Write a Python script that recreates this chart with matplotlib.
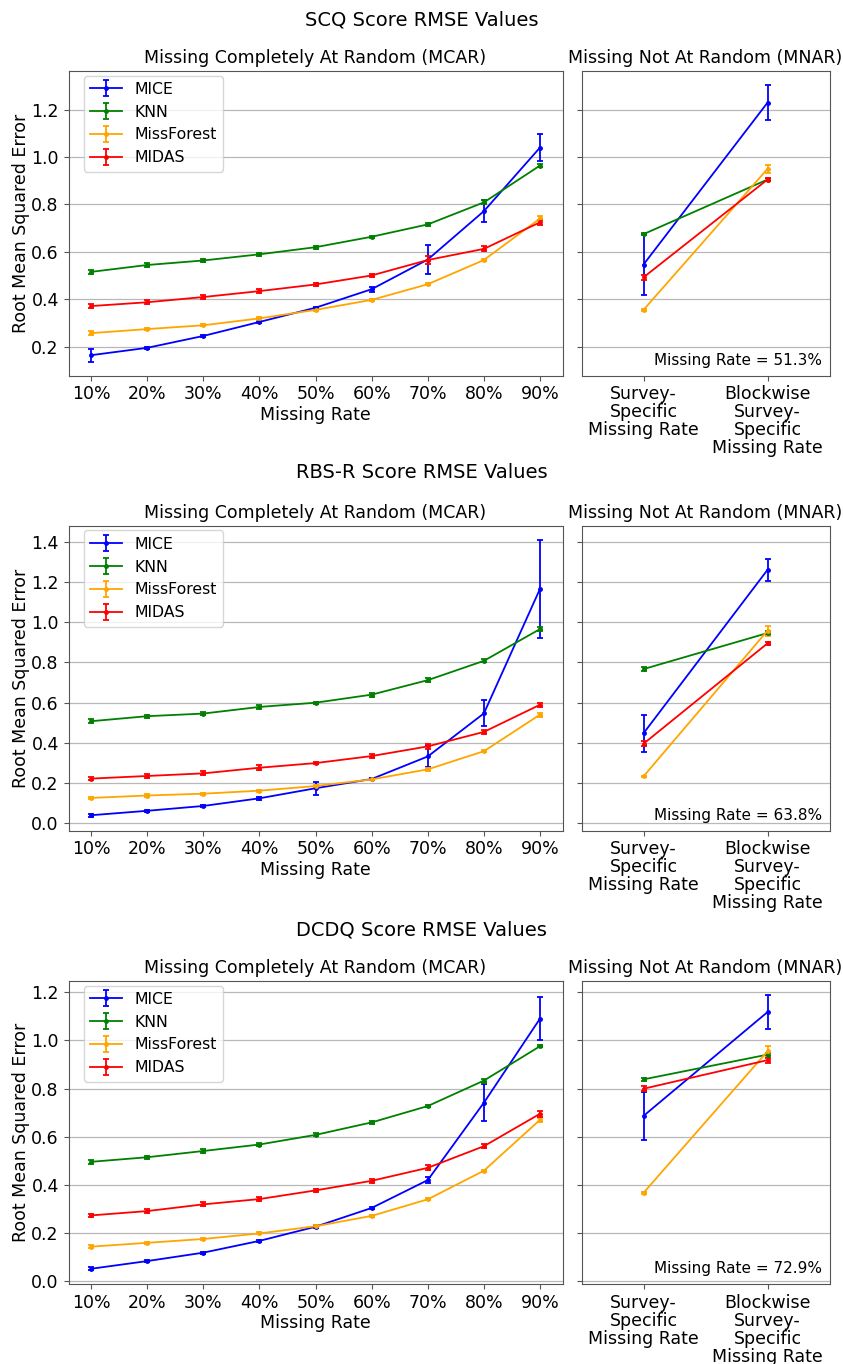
import matplotlib
matplotlib.use("Agg")
import matplotlib.pyplot as plt
import numpy as np

plt.rcParams['font.family'] = ['DejaVu Sans']

rates = ["10%", "20%", "30%", "40%", "50%", "60%", "70%", "80%", "90%"]
mnar_labels = ["Survey-\nSpecific\nMissing Rate", "Blockwise\nSurvey-\nSpecific\nMissing Rate"]
methods = ["MICE", "KNN", "MissForest", "MIDAS"]
colors = ["blue", "green", "orange", "red"]

row_titles = ["SCQ Score RMSE Values", "RBS-R Score RMSE Values", "DCDQ Score RMSE Values"]
mnar_rates = ["51.3%", "63.8%", "72.9%"]

# ---- SCQ ----
scq_mice = [0.165, 0.196, 0.246, 0.305, 0.365, 0.443, 0.568, 0.772, 1.040]
scq_mice_err = [0.028, 0.004, 0.004, 0.004, 0.004, 0.011, 0.061, 0.047, 0.056]
scq_knn = [0.516, 0.545, 0.564, 0.590, 0.620, 0.664, 0.716, 0.809, 0.964]
scq_knn_err = [0.010, 0.007, 0.006, 0.006, 0.006, 0.005, 0.006, 0.008, 0.005]
scq_mf = [0.258, 0.275, 0.291, 0.320, 0.356, 0.398, 0.464, 0.566, 0.741]
scq_mf_err = [0.007, 0.005, 0.005, 0.005, 0.005, 0.004, 0.005, 0.005, 0.010]
scq_midas = [0.372, 0.388, 0.410, 0.435, 0.463, 0.501, 0.566, 0.613, 0.725]
scq_midas_err = [0.008, 0.008, 0.008, 0.008, 0.006, 0.006, 0.018, 0.010, 0.010]

scq_mnar_mice = [0.547, 1.229]
scq_mnar_mice_err = [0.128, 0.075]
scq_mnar_knn = [0.675, 0.905]
scq_mnar_knn_err = [0.005, 0.005]
scq_mnar_mf = [0.356, 0.950]
scq_mnar_mf_err = [0.004, 0.017]
scq_mnar_midas = [0.493, 0.905]
scq_mnar_midas_err = [0.011, 0.006]

# ---- RBS-R ----
rbs_mice = [0.041, 0.063, 0.087, 0.125, 0.175, 0.221, 0.333, 0.547, 1.166]
rbs_mice_err = [0.008, 0.005, 0.005, 0.006, 0.031, 0.005, 0.050, 0.065, 0.243]
rbs_knn = [0.508, 0.533, 0.546, 0.579, 0.600, 0.640, 0.712, 0.808, 0.966]
rbs_knn_err = [0.010, 0.008, 0.008, 0.009, 0.006, 0.010, 0.009, 0.008, 0.010]
rbs_mf = [0.127, 0.139, 0.148, 0.163, 0.186, 0.219, 0.269, 0.359, 0.541]
rbs_mf_err = [0.006, 0.006, 0.005, 0.005, 0.006, 0.004, 0.006, 0.005, 0.010]
rbs_midas = [0.223, 0.236, 0.249, 0.277, 0.300, 0.335, 0.383, 0.455, 0.590]
rbs_midas_err = [0.008, 0.008, 0.010, 0.012, 0.006, 0.008, 0.012, 0.008, 0.010]

rbs_mnar_mice = [0.448, 1.260]
rbs_mnar_mice_err = [0.093, 0.054]
rbs_mnar_knn = [0.767, 0.946]
rbs_mnar_knn_err = [0.010, 0.010]
rbs_mnar_mf = [0.234, 0.958]
rbs_mnar_mf_err = [0.004, 0.025]
rbs_mnar_midas = [0.396, 0.895]
rbs_mnar_midas_err = [0.013, 0.008]

# ---- DCDQ ----
dcdq_mice = [0.050, 0.082, 0.117, 0.166, 0.225, 0.303, 0.419, 0.741, 1.091]
dcdq_mice_err = [0.006, 0.004, 0.004, 0.005, 0.006, 0.006, 0.012, 0.077, 0.090]
dcdq_knn = [0.495, 0.514, 0.540, 0.567, 0.607, 0.659, 0.727, 0.833, 0.976]
dcdq_knn_err = [0.008, 0.006, 0.008, 0.006, 0.006, 0.007, 0.005, 0.008, 0.005]
dcdq_mf = [0.142, 0.158, 0.174, 0.197, 0.227, 0.270, 0.339, 0.458, 0.670]
dcdq_mf_err = [0.005, 0.004, 0.004, 0.004, 0.005, 0.004, 0.004, 0.005, 0.008]
dcdq_midas = [0.272, 0.290, 0.318, 0.340, 0.376, 0.416, 0.470, 0.560, 0.695]
dcdq_midas_err = [0.008, 0.007, 0.008, 0.010, 0.008, 0.008, 0.010, 0.008, 0.012]

dcdq_mnar_mice = [0.686, 1.118]
dcdq_mnar_mice_err = [0.100, 0.072]
dcdq_mnar_knn = [0.838, 0.941]
dcdq_mnar_knn_err = [0.005, 0.006]
dcdq_mnar_mf = [0.366, 0.955]
dcdq_mnar_mf_err = [0.004, 0.023]
dcdq_mnar_midas = [0.799, 0.918]
dcdq_mnar_midas_err = [0.011, 0.010]

rows = [
    ([scq_mice, scq_knn, scq_mf, scq_midas],
     [scq_mice_err, scq_knn_err, scq_mf_err, scq_midas_err],
     [scq_mnar_mice, scq_mnar_knn, scq_mnar_mf, scq_mnar_midas],
     [scq_mnar_mice_err, scq_mnar_knn_err, scq_mnar_mf_err, scq_mnar_midas_err]),
    ([rbs_mice, rbs_knn, rbs_mf, rbs_midas],
     [rbs_mice_err, rbs_knn_err, rbs_mf_err, rbs_midas_err],
     [rbs_mnar_mice, rbs_mnar_knn, rbs_mnar_mf, rbs_mnar_midas],
     [rbs_mnar_mice_err, rbs_mnar_knn_err, rbs_mnar_mf_err, rbs_mnar_midas_err]),
    ([dcdq_mice, dcdq_knn, dcdq_mf, dcdq_midas],
     [dcdq_mice_err, dcdq_knn_err, dcdq_mf_err, dcdq_midas_err],
     [dcdq_mnar_mice, dcdq_mnar_knn, dcdq_mnar_mf, dcdq_mnar_midas],
     [dcdq_mnar_mice_err, dcdq_mnar_knn_err, dcdq_mnar_mf_err, dcdq_mnar_midas_err]),
]

W, H = 843, 1364
fig = plt.figure(figsize=(W / 100, H / 100), dpi=100)

# pixel boxes (top, bottom) per row
row_boxes = [(71, 375.7), (526, 830.7), (981, 1284)]
suptitle_y = [20, 473, 930]
mcar_lr = (68.5, 562.5)
mnar_lr = (581.5, 829.5)

FS = 12.5
spine_col = "#555555"
grid_col = "#b8b8b8"

def style(ax):
    for s in ax.spines.values():
        s.set_color(spine_col)
    ax.grid(axis="y", color=grid_col, linewidth=0.9)
    ax.set_axisbelow(True)
    ax.tick_params(labelsize=FS, color=spine_col)

for r, (vals, errs, mvals, merrs) in enumerate(rows):
    top, bot = row_boxes[r]
    ax1 = fig.add_axes([mcar_lr[0] / W, 1 - bot / H, (mcar_lr[1] - mcar_lr[0]) / W, (bot - top) / H])
    ax2 = fig.add_axes([mnar_lr[0] / W, 1 - bot / H, (mnar_lr[1] - mnar_lr[0]) / W, (bot - top) / H],
                       sharey=ax1)
    x = np.arange(len(rates))
    for m, c, v, e in zip(methods, colors, vals, errs):
        ax1.errorbar(x, v, yerr=e, color=c, label=m, marker='o', markersize=2.5,
                     linewidth=1.3, elinewidth=1.3, capsize=2.2, capthick=1.3)
    xm = np.arange(2)
    for m, c, v, e in zip(methods, colors, mvals, merrs):
        ax2.errorbar(xm, v, yerr=e, color=c, label=m, marker='o', markersize=2.5,
                     linewidth=1.3, elinewidth=1.3, capsize=2.2, capthick=1.3)
    ax1.set_xticks(x)
    ax1.set_xticklabels(rates)
    ax1.set_xlabel("Missing Rate", fontsize=FS, labelpad=2)
    ax1.set_ylabel("Root Mean Squared Error", fontsize=FS, labelpad=0.5)
    ax1.set_title("Missing Completely At Random (MCAR)", fontsize=FS)
    h = bot - top
    ax1.legend(loc="upper left", fontsize=11.3, handlelength=2.0, borderaxespad=0,
               bbox_to_anchor=((84 - mcar_lr[0]) / (mcar_lr[1] - mcar_lr[0]), 1 - 4.5 / h))
    ax2.set_xticks(xm)
    ax2.set_xticklabels(mnar_labels, linespacing=1.0)
    ax2.set_xlim(-0.5, 1.5)
    ax2.set_title("Missing Not At Random (MNAR)", fontsize=FS)
    ax2.tick_params(axis="y", labelleft=False)
    ax2.text(0.97, 0.025, "Missing Rate = " + mnar_rates[r], transform=ax2.transAxes,
             ha="right", va="bottom", fontsize=11)
    style(ax1)
    style(ax2)
    fig.text(0.5, 1 - suptitle_y[r] / H, row_titles[r], ha="center", va="center", fontsize=14)

fig.savefig("out.png", dpi=100)
